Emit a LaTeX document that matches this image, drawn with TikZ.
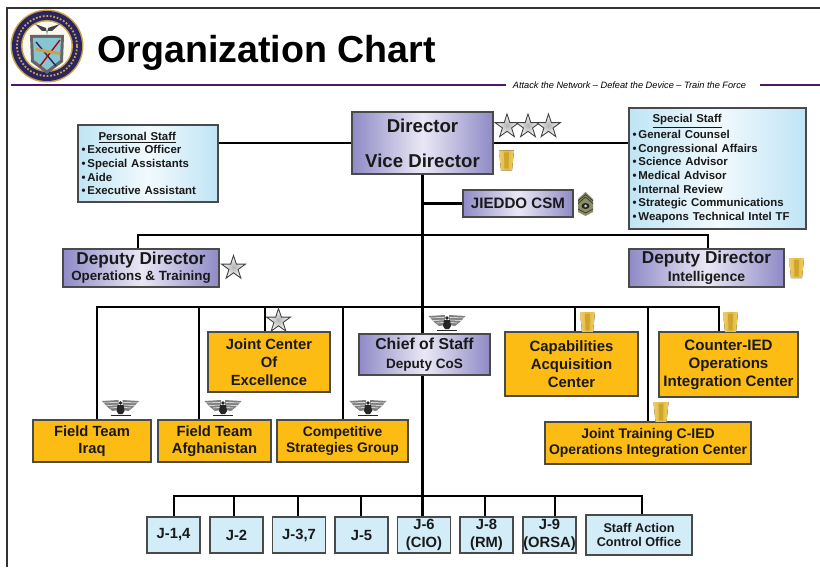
\documentclass[tikz,border=0pt]{standalone}
\usepackage{fontspec}
\setmainfont{Liberation Sans}
\usetikzlibrary{shapes.geometric}
\definecolor{ruleplum}{HTML}{4B1A66}
\definecolor{framegray}{HTML}{4A4A4A}
\definecolor{lilac}{HTML}{8F8AC6}
\definecolor{lilacpale}{HTML}{EAE8F5}
\definecolor{skyblue}{HTML}{BFE4F5}
\definecolor{skypale}{HTML}{F2FAFD}
\definecolor{amber}{HTML}{FCBC14}
\definecolor{goldbar}{HTML}{E5B731}
\definecolor{drab}{HTML}{8C8F63}
\definecolor{sealnavy}{HTML}{2A2560}
\definecolor{sealgold}{HTML}{C9A24A}
\newcommand{\fs}[2]{\fontsize{#1}{#2}\selectfont\bfseries}
\tikzset{
    box/.style = {shape=rectangle, draw=framegray, line width=0.7pt, inner sep=0pt, align=center, text=black!90},
    leader/.style = {box, left color=lilac, right color=lilac, middle color=lilacpale},
    stafflist/.style = {box, left color=skyblue, right color=skyblue, middle color=skypale, align=left},
    unit/.style = {box, fill=amber},
    office/.style = {box, fill=skyblue!70},
    link/.style = {line width=1.2pt, black},
    rulebar/.style = {line width=1.5pt, ruleplum},
    rank/.style = {shape=star, star points=5, star point ratio=2.6, minimum size=0.5cm, inner sep=0pt,
        draw=black!75, line width=0.5pt, inner color=black!30, outer color=white},
    bar/.pic = {
        \fill[left color=goldbar!70, right color=goldbar!70, middle color=goldbar] (-7.5,-10) -- (7.5,-10) -- (5.5,10) -- (-5.5,10) -- cycle;
        \fill[goldbar!90!black] (-2.5,-8) -- (2.5,-8) -- (2,8) -- (-2,8) -- cycle;
    },
    eagle/.pic = {
        \fill[black!50] (-18.5,-7) -- (-2,-8) -- (-2,2) -- (-8,3) -- (-13,-1) -- cycle;
        \fill[black!50] (18.5,-7) -- (2,-8) -- (2,2) -- (8,3) -- (13,-1) -- cycle;
        \draw[white, line width=0.3pt] (-17,-5) -- (-3,-5.5) (-14,-2.5) -- (-3,-3) (-10,0) -- (-3,-0.5)
            (17,-5) -- (3,-5.5) (14,-2.5) -- (3,-3) (10,0) -- (3,-0.5);
        \fill[black!85] (-3,-3) -- (3,-3) -- (4,3) -- (2,6) -- (-2,6) -- (-4,3) -- cycle;
        \fill[black!85] (0,-5) circle (1.8);
        \draw[black!85, line width=0.8pt] (-10,7.5) -- (10,7.5);
    },
    chevron/.pic = {
        \fill[drab] (-7.5,-5) -- (0,-12) -- (7.5,-5) -- (7.5,8) -- (0,12) -- (-7.5,8) -- cycle;
        \draw[black!80, line width=0.4pt] (-7.5,-3) -- (0,-9.5) -- (7.5,-3) (-7.5,-0.5) -- (0,-7) -- (7.5,-0.5);
        \draw[black!80, line width=0.4pt] (-7.5,5) -- (0,9) -- (7.5,5);
        \fill[black!85] (0,2) ellipse (4 and 3);
        \fill[drab!40!white] (0,2) circle (1.5);
    },
}
\begin{document}
\begin{tikzpicture}[x=0.02cm, y=-0.02cm]
    \useasboundingbox (0,0) rectangle (820,567);
    \fill[white] (0,0) rectangle (820,567);

    % page frame and heading
    \draw[line width=1.5pt, black!80] (7,567) -- (7,8) -- (820,8);
    \node[font=\fs{21.4}{24}, anchor=west, inner sep=0pt] (title) at (97,53) {Organization Chart};
    \node[font=\fontsize{5.25}{6}\selectfont\itshape, inner sep=0pt] (motto) at (629.5,85) {Attack the Network – Defeat the Device – Train the Force};
    \coordinate (ruleA) at (11,85);
    \coordinate (ruleB) at (506,85);
    \coordinate (ruleC) at (760,85);
    \coordinate (ruleD) at (820,85);
    \draw[rulebar] (ruleA) -- (ruleB);
    \draw[rulebar] (ruleC) -- (ruleD);

    % seal
    \fill[sealgold] (47,46) circle (36.5);
    \fill[sealnavy] (47,46) circle (35);
    \draw[sealgold, line width=1pt, dash pattern=on 1pt off 1pt] (47,46) circle (30);
    \fill[sealgold] (47,46) circle (26);
    \fill[white!92!sealgold] (47,46) circle (24.5);
    \fill[black!60] (30,35) -- (64,35) -- (63,62) -- (47,74) -- (31,62) -- cycle;
    \fill[skyblue!70!teal] (33,38) -- (61,38) -- (60,60) -- (47,70) -- (34,60) -- cycle;
    \draw[sealnavy, line width=0.8pt] (36,42) -- (56,66);
    \draw[red!70!black, line width=0.8pt] (60,40) -- (40,66);
    \fill[sealgold] (36,48) -- (60,52) -- (60,55) -- (36,51) -- cycle;
    \fill[black!75] (35,24) -- (46,28) -- (47,35) -- (48,28) -- (60,24) -- (52,31) -- (42,31) -- cycle;

    % leadership row
    \node[leader, minimum width=2.82cm, minimum height=1.24cm, font=\fs{10.6}{19.8}] (director) at (422.5,143)
        {Director\\ Vice Director};
    \node[stafflist, minimum width=2.8cm, minimum height=1.54cm, text width=2.66cm, font=\fs{6.5}{7.8}] (personal) at (148,163.5)
        {\hspace*{0.34cm}\underline{Personal Staff}\\
        \textbullet\,Executive Officer\\ \textbullet\,Special Assistants\\ \textbullet\,Aide\\ \textbullet\,Executive Assistant};
    \node[stafflist, minimum width=3.54cm, minimum height=2.42cm, text width=3.4cm, font=\fs{6.5}{7.8}] (special) at (717.5,168.5)
        {\hspace*{0.4cm}\underline{Special Staff}\\
        \textbullet\,General Counsel\\ \textbullet\,Congressional Affairs\\ \textbullet\,Science Advisor\\
        \textbullet\,Medical Advisor\\ \textbullet\,Internal Review\\ \textbullet\,Strategic Communications\\
        \textbullet\,Weapons Technical Intel TF};
    \node[leader, minimum width=2.2cm, minimum height=0.54cm, font=\fs{8.6}{10}] (csm) at (518,203.5) {JIEDDO CSM};
    \node[leader, minimum width=3.12cm, minimum height=0.76cm, font=\fs{7.6}{9}] (opsdep) at (141,268)
        {{\fs{9.8}{9}Deputy Director}\\ Operations \& Training};
    \node[leader, minimum width=3.1cm, minimum height=0.76cm, font=\fs{8}{10}] (inteldep) at (706.5,268)
        {{\fs{9.8}{10}Deputy Director}\\ Intelligence};

    % units
    \node[unit, minimum width=2.36cm, minimum height=0.84cm, font=\fs{8.4}{10}] (iraq) at (92,441) {Field Team\\ Iraq};
    \node[unit, minimum width=2.26cm, minimum height=0.84cm, font=\fs{8.4}{10}] (afghan) at (214.5,441) {Field Team\\ Afghanistan};
    \node[unit, minimum width=2.62cm, minimum height=0.84cm, font=\fs{7.9}{9.2}] (compete) at (342.5,441) {Competitive\\ Strategies Group};
    \node[unit, minimum width=2.44cm, minimum height=1.2cm, font=\fs{8.4}{10.2}] (jcoe) at (269,362) {Joint Center\\ Of\\ Excellence};
    \node[leader, minimum width=2.62cm, minimum height=0.82cm, font=\fs{7.7}{10.8}] (cos) at (424.5,354.5)
        {{\fs{9}{10.8}Chief of Staff}\\ Deputy CoS};
    \node[unit, minimum width=2.66cm, minimum height=1.28cm, font=\fs{8.5}{10.2}] (cac) at (571.5,364) {Capabilities\\ Acquisition\\ Center};
    \node[unit, minimum width=2.78cm, minimum height=1.3cm, font=\fs{8.6}{10.2}] (oic) at (728.5,364.5) {Counter-IED\\ Operations\\ Integration Center};
    \node[unit, minimum width=4.12cm, minimum height=0.84cm, font=\fs{7.95}{9.4}] (jtc) at (648,443) {Joint Training C-IED\\ Operations Integration Center};

    % J staff
    \node[office, minimum width=1.06cm, minimum height=0.72cm, font=\fs{8.4}{10}] (j14) at (173.5,535) {J-1,4};
    \node[office, minimum width=1.06cm, minimum height=0.72cm, font=\fs{8.4}{10}] (j2) at (236.5,535) {J-2};
    \node[office, minimum width=1.06cm, minimum height=0.72cm, font=\fs{8.4}{10}] (j37) at (299,535) {J-3,7};
    \node[office, minimum width=1.06cm, minimum height=0.72cm, font=\fs{8.4}{10}] (j5) at (361.5,535) {J-5};
    \node[office, minimum width=1.06cm, minimum height=0.72cm, font=\fs{8.4}{10}] (j6) at (424,535) {J-6\\ (CIO)};
    \node[office, minimum width=1.06cm, minimum height=0.72cm, font=\fs{8.4}{10}] (j8) at (486.5,535) {J-8\\ (RM)};
    \node[office, minimum width=1.06cm, minimum height=0.72cm, font=\fs{8.4}{10}] (j9) at (549.5,535) {J-9\\ (ORSA)};
    \node[office, minimum width=2.12cm, minimum height=0.8cm, font=\fs{7.2}{8.5}] (saco) at (639,535) {Staff Action\\ Control Office};

    % bus lines
    \coordinate (busTopL) at (138,235);
    \coordinate (busTopR) at (708,235);
    \coordinate (busMidA) at (97,307);
    \coordinate (busMidB) at (199,307);
    \coordinate (busMidC) at (265,307);
    \coordinate (busMidD) at (343,307);
    \coordinate (busMidE) at (575,307);
    \coordinate (busMidF) at (648,307);
    \coordinate (busMidG) at (719,307);
    \coordinate (busLowA) at (174,496);
    \coordinate (busLowB) at (234,496);
    \coordinate (busLowC) at (298,496);
    \coordinate (busLowD) at (361,496);
    \coordinate (busLowE) at (485,496);
    \coordinate (busLowF) at (555,496);
    \coordinate (busLowG) at (642,496);

    % connectors
    \draw[link] (director.west) to (director.west -| personal.east);
    \draw[link] (director.east) to (director.east -| special.west);
    \draw[link] (director.south) to (director.south |- cos.north);
    \draw[link] (director.south |- cos.south) to (director.south |- j6.north);
    \draw[link] (csm.west) to (csm.west -| director.south);
    \draw[link] (busTopL |- opsdep.north) to (busTopL) to (busTopR) to (busTopR |- inteldep.north);
    \draw[link] (busMidA |- iraq.north) to (busMidA) to (busMidG) to (busMidG |- oic.north);
    \draw[link] (busMidB) to (busMidB |- afghan.north);
    \draw[link] (busMidC) to (busMidC |- jcoe.north);
    \draw[link] (busMidD) to (busMidD |- compete.north);
    \draw[link] (busMidE) to (busMidE |- cac.north);
    \draw[link] (busMidF) to (busMidF |- jtc.north);
    \draw[link] (busLowA |- j14.north) to (busLowA) to (busLowG) to (busLowG |- saco.north);
    \draw[link] (busLowB) to (busLowB |- j2.north);
    \draw[link] (busLowC) to (busLowC |- j37.north);
    \draw[link] (busLowD) to (busLowD |- j5.north);
    \draw[link] (busLowE) to (busLowE |- j8.north);
    \draw[link] (busLowF) to (busLowF |- j9.north);

    % insignia
    \node[rank] (starA) at (507,126.5) {};
    \node[rank] (starB) at (528,126.5) {};
    \node[rank] (starC) at (548.5,126.5) {};
    \node[rank] (starOps) at (233.5,268) {};
    \node[rank] (starJcoe) at (278.5,321) {};
    \pic at (506.5,160.5) {bar};
    \pic at (796.5,268) {bar};
    \pic at (587.5,322) {bar};
    \pic at (730.5,322) {bar};
    \pic at (661,412) {bar};
    \pic at (120.5,408) {eagle};
    \pic at (223,408) {eagle};
    \pic at (368,408) {eagle};
    \pic at (447,323) {eagle};
    \pic at (585.5,204) {chevron};
\end{tikzpicture}
\end{document}
